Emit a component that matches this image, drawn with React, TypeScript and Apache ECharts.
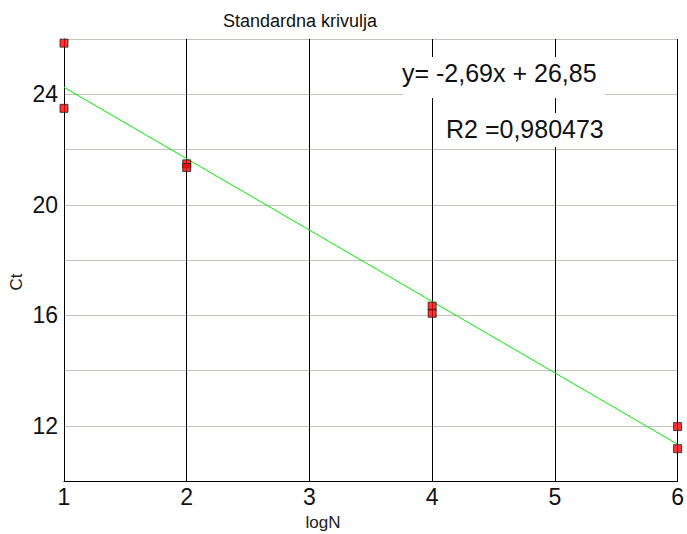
import React, { useEffect, useRef } from "react";
import * as echarts from "echarts";

const titleText = "Standardna krivulja";
const xName = "logN";
const yName = "Ct";
const logN = [1, 1, 2, 2, 4, 4, 6, 6];
const ct = [25.85, 23.49, 21.48, 21.35, 16.33, 16.07, 11.97, 11.17];
const fitX = [1, 6];
const fitY = [24.25, 11.33];
const yLabelValues = [12, 16, 20, 24];
const equationText = "y= -2,69x + 26,85";
const r2Text = "R2 =0,980473";

const FONT = "'Liberation Sans', Arial, sans-serif";

export default function App() {
  const ref = useRef<HTMLDivElement>(null);
  useEffect(() => {
    if (!ref.current) return;
    const chart = echarts.init(ref.current, undefined, { renderer: "svg" });
    chart.setOption({
      animation: false,
      backgroundColor: "#ffffff",
      textStyle: { fontFamily: FONT },
      grid: { left: 64, right: 8, top: 39, bottom: 53, containLabel: false },
      xAxis: {
        type: "value",
        min: 1,
        max: 6,
        interval: 1,
        axisLine: { show: true, lineStyle: { color: "#000", width: 1 } },
        axisTick: { show: false },
        axisLabel: { fontSize: 23, color: "#111", margin: 4, fontFamily: FONT },
        splitLine: { show: true, lineStyle: { color: "#000", width: 1 } },
      },
      yAxis: {
        type: "value",
        min: 10,
        max: 26,
        interval: 2,
        axisLine: { show: true, lineStyle: { color: "#000", width: 1 } },
        axisTick: { show: false },
        axisLabel: {
          fontSize: 23,
          color: "#111",
          margin: 6,
          fontFamily: FONT,
          formatter: (v: number) => (yLabelValues.indexOf(v) >= 0 ? String(v) : ""),
        },
        splitLine: { show: true, lineStyle: { color: "#c4c4bc", width: 1 } },
      },
      graphic: [
        {
          type: "text",
          left: 223,
          top: 12,
          z: 100,
          style: { text: titleText, fontSize: 18, fill: "#111", fontFamily: FONT },
        },
        {
          type: "text",
          z: 100,
          x: 323,
          y: 522,
          style: {
            text: xName,
            fontSize: 17,
            fill: "#222",
            fontFamily: FONT,
            textAlign: "center",
            textVerticalAlign: "middle",
          },
        },
        {
          type: "text",
          z: 100,
          x: 16,
          y: 282,
          rotation: Math.PI / 2,
          style: {
            text: yName,
            fontSize: 17,
            fill: "#222",
            fontFamily: FONT,
            textAlign: "center",
            textVerticalAlign: "middle",
          },
        },
        {
          type: "rect",
          z: 100,
          shape: { x: 403, y: 57, width: 202, height: 41 },
          style: { fill: "#ffffff" },
        },
        {
          type: "text",
          z: 101,
          x: 402,
          y: 73,
          style: {
            text: equationText,
            fontSize: 25,
            fill: "#111",
            fontFamily: FONT,
            textVerticalAlign: "middle",
          },
        },
        {
          type: "rect",
          z: 100,
          shape: { x: 447, y: 113, width: 196, height: 34 },
          style: { fill: "#ffffff" },
        },
        {
          type: "text",
          z: 101,
          x: 446,
          y: 129,
          style: {
            text: r2Text,
            fontSize: 25,
            fill: "#111",
            fontFamily: FONT,
            textVerticalAlign: "middle",
          },
        },
      ],
      series: [
        {
          type: "line",
          data: fitX.map((x, i) => [x, fitY[i]]),
          showSymbol: false,
          symbol: "none",
          lineStyle: { color: "#00ee00", width: 1 },
          z: 3,
        },
        {
          type: "scatter",
          data: logN.map((x, i) => [x, ct[i]]),
          symbol: "rect",
          symbolSize: 8,
          itemStyle: { color: "#ff0000", borderColor: "#222", borderWidth: 1 },
          z: 4,
        },
      ],
    });
    return () => chart.dispose();
  }, []);
  return (
    <div
      ref={ref}
      style={{ position: "absolute", left: 0, top: 0, width: 687, height: 534 }}
    />
  );
}
